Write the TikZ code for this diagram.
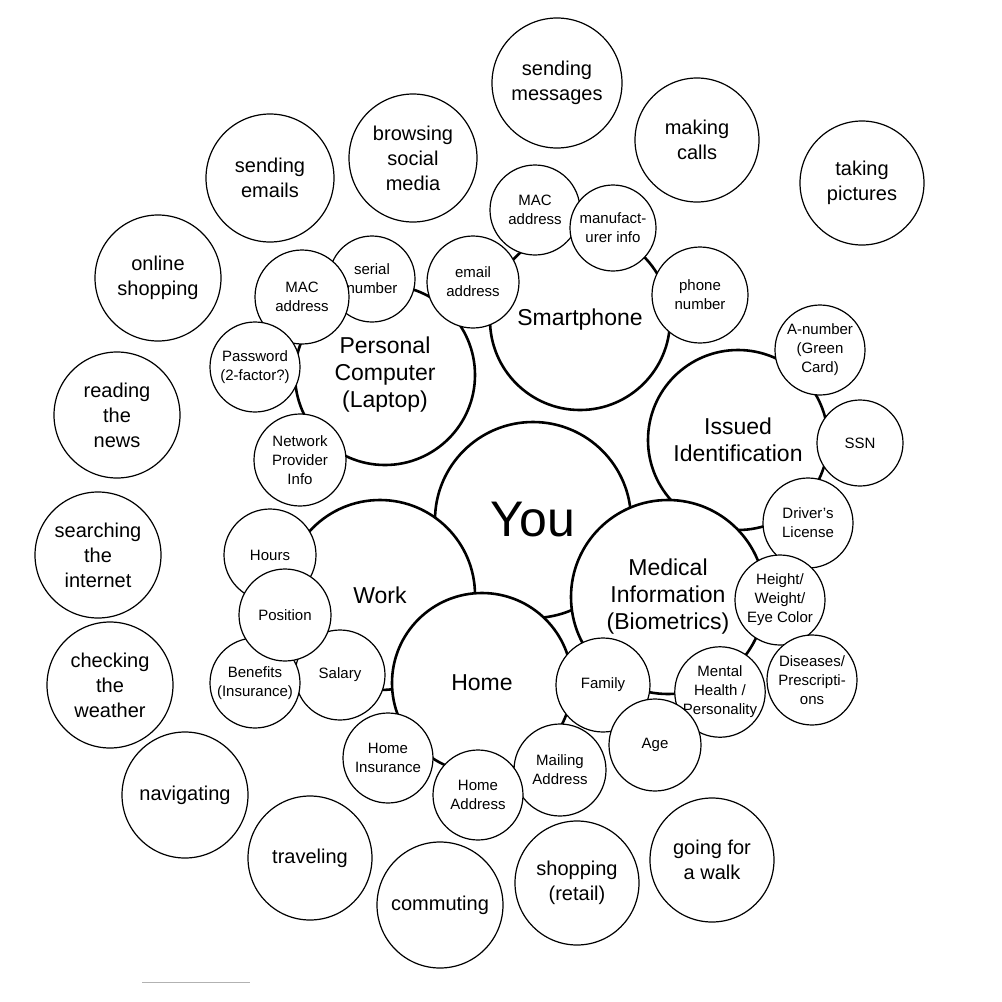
\documentclass[tikz,border=0pt]{standalone}
\usepackage{fontspec}
\setmainfont{Liberation Sans}
\begin{document}
\begin{tikzpicture}[x=1pt,y=-1pt,
  big/.style={circle,draw,fill=white,line width=2.6pt,align=center,font=\fontsize{23}{27}\selectfont,inner sep=0pt},
  small/.style={circle,draw,fill=white,line width=1.2pt,align=center,font=\fontsize{15}{19}\selectfont,inner sep=0pt},
  act/.style={circle,draw,fill=white,line width=1.2pt,align=center,font=\fontsize{20}{25}\selectfont,inner sep=0pt}]
\useasboundingbox (0,0) rectangle (1002,1002);
\def\C#1#2#3#4#5#6{\node[#1,minimum size=#5*2pt] (#2) at (#3,#4) {#6};}
% activities
\C{act}{msg}{557}{83}{65}{sending\\messages}
\C{act}{calls}{697}{140}{62}{making\\calls}
\C{act}{pics}{862}{183}{62}{taking\\pictures}
\C{act}{social}{413}{158}{64}{browsing\\social\\media}
\C{act}{emails}{270}{178}{64}{sending\\emails}
\C{act}{online}{158}{278}{63}{online\\shopping}
\C{act}{news}{117}{415}{63}{reading\\the\\news}
\C{act}{search}{98}{555}{63}{searching\\the\\internet}
\C{act}{weather}{110}{685}{63}{checking\\the\\weather}
\C{act}{nav}{185}{795}{63}{navigating}
\C{act}{travel}{310}{858}{62}{traveling}
\C{act}{commute}{440}{905}{63}{commuting}
\C{act}{retail}{577}{883}{62}{shopping\\(retail)}
\C{act}{walk}{712}{860}{62}{going for\\a walk}
% centre
\node[circle,draw,fill=white,line width=2.6pt,minimum size=196pt,font=\fontsize{50}{56}\selectfont] (you) at (533,520) {You};
\C{big}{pc}{385}{375}{90}{Personal\\Computer\\(Laptop)}
\C{big}{phone}{580}{320}{90}{Smartphone}
\C{big}{id}{738}{440}{90}{Issued\\Identification}
\C{big}{work}{380}{595}{95}{Work}
\C{big}{med}{668}{597}{97}{Medical\\Information\\(Biometrics)}
\C{big}{home}{482}{683}{90}{Home}
% details
\C{small}{ser}{372}{279}{43}{serial\\number}
\C{small}{mac1}{302}{297}{47}{MAC\\address}
\C{small}{mail}{473}{282}{46}{email\\address}
\C{small}{pw}{255}{367}{45}{Password\\(2-factor?)}
\C{small}{net}{300}{460}{46}{Network\\Provider\\Info}
\C{small}{mac2}{535}{210}{45}{MAC\\address}
\C{small}{manu}{613}{228}{43}{manufact-\\urer info}
\C{small}{pnum}{700}{295}{48}{phone\\number}
\C{small}{anum}{820}{350}{45}{A-number\\(Green\\Card)}
\C{small}{ssn}{860}{443}{43}{SSN}
\C{small}{dl}{808}{523}{45}{Driver's\\License}
\C{small}{hw}{780}{600}{45}{Height/\\Weight/\\Eye Color}
\C{small}{dis}{812}{680}{45}{Diseases/\\Prescripti-\\ons}
\C{small}{ment}{720}{692}{45}{Mental\\Health /\\Personality}
\C{small}{fam}{603}{685}{47}{Family}
\C{small}{age}{655}{745}{46}{Age}
\C{small}{maddr}{560}{770}{46}{Mailing\\Address}
\C{small}{haddr}{478}{795}{45}{Home\\Address}
\C{small}{hins}{388}{758}{45}{Home\\Insurance}
\C{small}{sal}{340}{675}{45}{Salary}
\C{small}{ben}{255}{683}{45}{Benefits\\(Insurance)}
\C{small}{hrs}{270}{555}{46}{Hours}
\C{small}{pos}{285}{615}{46}{Position}
\coordinate (la) at (142,982); \coordinate (lb) at (250,982);
\draw[gray!60,line width=1pt] (la) -- (lb);
\end{tikzpicture}
\end{document}
